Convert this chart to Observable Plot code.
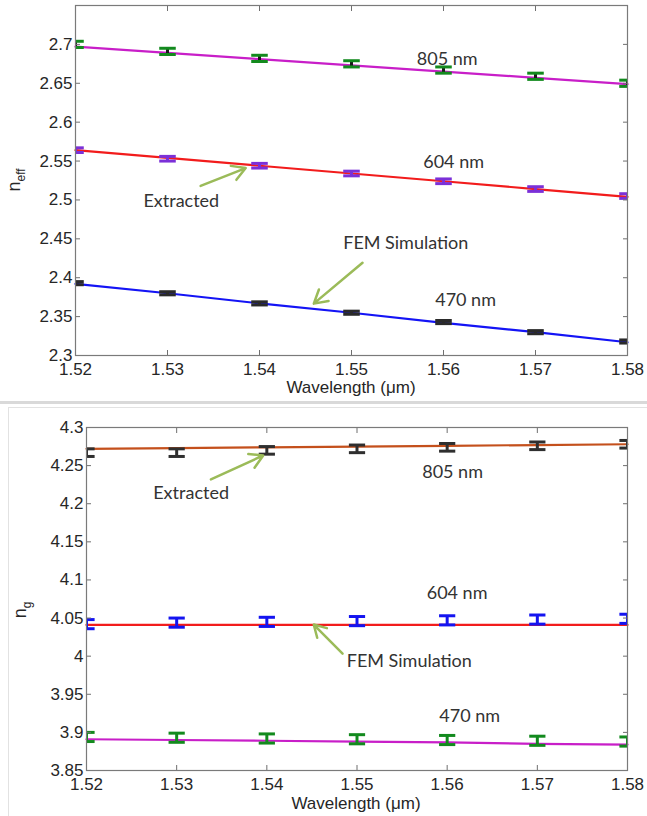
<!DOCTYPE html>
<html><head><meta charset="utf-8">
<script src="https://cdn.jsdelivr.net/npm/d3@7"></script>
<script src="https://cdn.jsdelivr.net/npm/@observablehq/plot@0.6"></script>
<style>
body{margin:0;background:#fff;}
#wrap{position:relative;width:647px;height:816px;overflow:hidden;background:#fff}
#top{position:absolute;left:0;top:0}
#bot{position:absolute;left:0;top:403px}
.sep{position:absolute;left:0;top:401px;width:647px;height:3px;background:#d9d9d9}
.box{position:absolute;left:8px;top:407px;width:660px;height:420px;border-left:1px solid #e2e2e2;border-top:1px solid #e2e2e2}
</style></head><body>
<div id="wrap"><div class="sep"></div><div class="box"></div><div id="top"></div><div id="bot"></div></div>
<script>
// ---------- data ----------
const wavelengths = [1.52, 1.53, 1.54, 1.55, 1.56, 1.57, 1.58];
const xTickLabels = ["1.52", "1.53", "1.54", "1.55", "1.56", "1.57", "1.58"];

// effective index (top panel)
const neffFem805 = [2.697, 2.689, 2.681, 2.673, 2.665, 2.657, 2.649];
const neffExt805 = [2.700, 2.691, 2.682, 2.675, 2.667, 2.659, 2.650];
const neffFem604 = [2.564, 2.554, 2.544, 2.534, 2.524, 2.514, 2.504];
const neffExt604 = [2.564, 2.553, 2.544, 2.534, 2.524, 2.514, 2.505];
const neffFem470 = [2.392, 2.380, 2.367, 2.355, 2.342, 2.330, 2.317];
const neffExt470 = [2.393, 2.380, 2.367, 2.355, 2.343, 2.330, 2.318];
const neffErr805 = 0.004, neffErr604 = 0.003, neffErr470 = 0.002;
const neffTickLabels = ["2.3", "2.35", "2.4", "2.45", "2.5", "2.55", "2.6", "2.65", "2.7"];

// group index (bottom panel)
const ngFem805 = [4.272, 4.273, 4.274, 4.275, 4.276, 4.277, 4.278];
const ngExt805 = [4.267, 4.267, 4.270, 4.272, 4.274, 4.276, 4.278];
const ngFem604 = [4.041, 4.041, 4.041, 4.041, 4.041, 4.041, 4.041];
const ngExt604 = [4.042, 4.044, 4.045, 4.046, 4.047, 4.048, 4.049];
const ngFem470 = [3.891, 3.890, 3.889, 3.888, 3.887, 3.885, 3.884];
const ngExt470 = [3.894, 3.893, 3.892, 3.891, 3.890, 3.889, 3.888];
const ngErr805 = 0.005, ngErr604 = 0.006, ngErr470 = 0.006;
const ngTickLabels = ["3.85", "3.9", "3.95", "4", "4.05", "4.1", "4.15", "4.2", "4.25", "4.3"];

const seriesLabels = ["805 nm", "604 nm", "470 nm"];
// ---------- helpers ----------
const CAP = 0.0009; // half width of error bar caps (x units)
const rows = (ys) => wavelengths.map((x, i) => ({x, y: ys[i]}));
const erows = (ys, e) => wavelengths.map((x, i) => ({x, y: ys[i], lo: ys[i] - e, hi: ys[i] + e}));

function errorMarks(data, color, stemColor) {
  return [
    Plot.link(data, {x1: "x", x2: "x", y1: "lo", y2: "hi", stroke: stemColor || color, strokeWidth: 3, clip: true}),
    Plot.link(data, {x1: d => d.x - CAP, x2: d => d.x + CAP, y1: "hi", y2: "hi", stroke: color, strokeWidth: 3, clip: true}),
    Plot.link(data, {x1: d => d.x - CAP, x2: d => d.x + CAP, y1: "lo", y2: "lo", stroke: color, strokeWidth: 3, clip: true})
  ];
}
function axes(yTicksLabels) {
  const yt = yTicksLabels.map(Number);
  return [
    Plot.axisX(wavelengths, {anchor: "bottom", tickSize: -5, tickPadding: 12, tickFormat: (d, i) => xTickLabels[i], label: null, fontSize: 17, stroke: "#6f6f6f"}),
    Plot.axisX(wavelengths, {anchor: "top", tickSize: -5, tickFormat: null, text: null, label: null, stroke: "#6f6f6f"}),
    Plot.axisY(yt, {anchor: "left", tickSize: -5, tickPadding: 8, tickFormat: (d, i) => yTicksLabels[i], label: null, fontSize: 17, stroke: "#6f6f6f"}),
    Plot.axisY(yt, {anchor: "right", tickSize: -5, text: null, label: null, stroke: "#6f6f6f"}),
    Plot.frame({stroke: "#7a7a7a", strokeWidth: 1.2})
  ];
}
const annFont = {fontFamily: "Lato, 'Open Sans', sans-serif", fontSize: 18, fill: "#333"};
const arrowStyle = {stroke: "#9bbb59", strokeWidth: 2.5, headLength: 9, bend: false};

// ---------- top panel ----------
const topPlot = Plot.plot({
  width: 647, height: 400,
  marginLeft: 75, marginRight: 20, marginTop: 5, marginBottom: 45,
  x: {domain: [1.52, 1.58]},
  y: {domain: [2.3, 2.75]},
  style: {fontFamily: "'Liberation Sans', Arial, sans-serif", fontSize: "17px", color: "#262626", background: "transparent", overflow: "visible"},
  marks: [
    Plot.line(rows(neffFem805), {x: "x", y: "y", stroke: "#c81ec8", strokeWidth: 2.2}),
    Plot.line(rows(neffFem604), {x: "x", y: "y", stroke: "#f21c1c", strokeWidth: 2.2}),
    Plot.line(rows(neffFem470), {x: "x", y: "y", stroke: "#1414f5", strokeWidth: 2.2}),
    ...errorMarks(erows(neffExt805, neffErr805), "#138a1e", "#1a1a1a"),
    ...errorMarks(erows(neffExt604, neffErr604), "#7b30d8"),
    ...errorMarks(erows(neffExt470, neffErr470), "#2a2a2a"),
    ...axes(neffTickLabels),
    Plot.text([seriesLabels[0]], {x: 1.5604, y: 2.681, text: d => d, ...annFont}),
    Plot.text([seriesLabels[1]], {x: 1.5611, y: 2.5487, text: d => d, ...annFont}),
    Plot.text([seriesLabels[2]], {x: 1.5624, y: 2.3705, text: d => d, ...annFont}),
    Plot.text(["Extracted"], {x: 1.5315, y: 2.4987, text: d => d, ...annFont}),
    Plot.text(["FEM Simulation"], {x: 1.5559, y: 2.4449, text: d => d, ...annFont}),
    Plot.arrow([0], {x1: 1.5336, y1: 2.518, x2: 1.5385, y2: 2.541, ...arrowStyle}),
    Plot.arrow([0], {x1: 1.5512, y1: 2.4192, x2: 1.5459, y2: 2.3667, ...arrowStyle})
  ]
});
document.getElementById("top").appendChild(topPlot);

// ---------- bottom panel ----------
const botPlot = Plot.plot({
  width: 647, height: 413,
  marginLeft: 86, marginRight: 20, marginTop: 24, marginBottom: 46,
  x: {domain: [1.52, 1.58]},
  y: {domain: [3.85, 4.3]},
  style: {fontFamily: "'Liberation Sans', Arial, sans-serif", fontSize: "17px", color: "#262626", background: "transparent", overflow: "visible"},
  marks: [
    Plot.line(rows(ngFem805), {x: "x", y: "y", stroke: "#c4501c", strokeWidth: 2.2}),
    Plot.line(rows(ngFem604), {x: "x", y: "y", stroke: "#f21c1c", strokeWidth: 2.2}),
    Plot.line(rows(ngFem470), {x: "x", y: "y", stroke: "#c81ec8", strokeWidth: 2.2}),
    ...errorMarks(erows(ngExt805, ngErr805), "#2f2f2f"),
    ...errorMarks(erows(ngExt604, ngErr604), "#1414f0"),
    ...errorMarks(erows(ngExt470, ngErr470), "#138a1e"),
    ...axes(ngTickLabels),
    Plot.text([seriesLabels[0]], {x: 1.5606, y: 4.2409, text: d => d, ...annFont}),
    Plot.text([seriesLabels[1]], {x: 1.5611, y: 4.0822, text: d => d, ...annFont}),
    Plot.text([seriesLabels[2]], {x: 1.5625, y: 3.9207, text: d => d, ...annFont}),
    Plot.text(["Extracted"], {x: 1.5316, y: 4.2134, text: d => d, ...annFont}),
    Plot.text(["FEM Simulation"], {x: 1.5558, y: 3.9929, text: d => d, ...annFont}),
    Plot.arrow([0], {x1: 1.5338, y1: 4.2318, x2: 1.5396, y2: 4.2633, ...arrowStyle}),
    Plot.arrow([0], {x1: 1.5484, y1: 4.0034, x2: 1.5452, y2: 4.0415, ...arrowStyle})
  ]
});
document.getElementById("bot").appendChild(botPlot);

// ---------- axis titles (with subscripts) ----------
function addLabels(svg, cx, yLabelX, yLabelY, xLabelY, sub) {
  const s = d3.select(svg);
  s.append("text").attr("x", cx).attr("y", xLabelY).attr("text-anchor", "middle")
    .attr("font-family", "'Liberation Sans', Arial, sans-serif").attr("font-size", 17).attr("fill", "#262626")
    .text("Wavelength (\u03bcm)");
  const t = s.append("text").attr("transform", `translate(${yLabelX},${yLabelY}) rotate(-90)`).attr("text-anchor", "middle")
    .attr("font-family", "'Liberation Sans', Arial, sans-serif").attr("font-size", 18).attr("fill", "#262626");
  t.append("tspan").text("n");
  t.append("tspan").attr("font-size", 12).attr("dy", 5).text(sub);
}
addLabels(topPlot, 351, 20, 180, 393, "eff");
addLabels(botPlot, 356, 26, 207, 406, "g");
</script>
</body></html>
